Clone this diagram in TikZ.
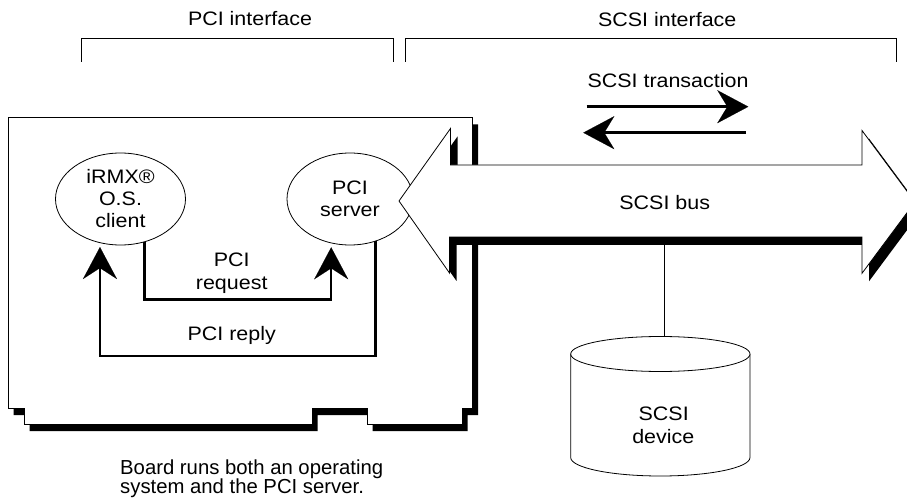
\documentclass[tikz,border=0pt]{standalone}
\usepackage{fontspec}
\setmainfont{Liberation Sans}[FakeStretch=1.1]
\newfontfamily\capfont{Liberation Sans}
\usetikzlibrary{arrows.meta,shapes.geometric}
\begin{document}
\begin{tikzpicture}[x=1pt,y=-1pt,
  every node/.style={font=\fontsize{19.5}{22}\selectfont, inner sep=0pt},
  thinln/.style={line width=0.8pt},
  conn/.style={line width=2.2pt, -{Stealth[length=32pt,width=34pt,inset=11pt,line width=0.1pt]}, shorten >=4pt},
  trans/.style={line width=2.8pt, -{Stealth[length=31pt,width=33pt,inset=10pt,line width=0.1pt]}},
  proc/.style={ellipse, draw, thinln, fill=white, align=center, minimum height=92pt},
  board outline/.style={insert path={(8,117.5) -- (472.5,117.5) -- (472.5,408) -- (462,408) -- (462,424) -- (367,424) -- (367,408) -- (312,408) -- (312,424) -- (24,424) -- (24,408) -- (8,408) -- cycle}},
  bus outline/.style={insert path={(399,201) -- (450.5,128.5) -- (450.5,165) -- (862,165) -- (862,130.5) -- (915,202) -- (862,273.3) -- (862,237) -- (449.5,237) -- (449.5,273) -- cycle}}
]
\useasboundingbox (0,0) rectangle (907,502);
\clip (0,0) rectangle (907,502);

% headings and brackets
\node[anchor=base] (pcihead) at (250,26) {PCI interface};
\node[anchor=base] (scsihead) at (667.2,26.7) {SCSI interface};
\draw[thinln] (81.7,62) -- (81.7,38) -- (393.3,38) -- (393.3,62);
\draw[thinln] (405,62) -- (405,38) -- (896,38) -- (896,62);

% SCSI transaction
\node[anchor=base] (trtxt) at (668,87.3) {SCSI transaction};
\coordinate (t1a) at (586.7,106.7);
\coordinate (t1b) at (748.3,106.7);
\coordinate (t2a) at (746,132.7);
\coordinate (t2b) at (583.3,132.7);
\draw[trans] (t1a) -- (t1b);
\draw[trans] (t2a) -- (t2b);

% board
\fill[black, shift={(5.5,7)}, board outline];
\filldraw[thinln, fill=white, board outline];

% processes
\node[proc, minimum width=130pt] (client) at (120.5,199) {iRMX®\\O.S.\\client};
\node[proc, minimum width=126pt] (server) at (350,199) {PCI\\server};

% request / reply
\draw[conn] (client.-61.3) -- ++(0,57.4) -| (server.-113.8);
\node[anchor=base] (req1) at (231.7,266.7) {PCI};
\node[anchor=base] (req2) at (231.7,290) {request};
\draw[conn] (server.-59.4) -- ++(0,114.8) -| (client.-115.2);
\node[anchor=base] (rep) at (231.7,340.7) {PCI reply};

% SCSI bus
\fill[black, shift={(7,8)}, bus outline];
\filldraw[thinln, fill=white, bus outline];
\node[anchor=base] (bus) at (664.7,210) {SCSI bus};

% SCSI device
\coordinate (busb) at (664.3,245);
\coordinate (devtop) at (664.3,336.5);
\draw[thinln] (busb) -- (devtop);
\filldraw[thinln, fill=white] (570.7,354) -- (570.7,457.5) arc[start angle=180, end angle=360, x radius=89.65pt, y radius=18.5pt] -- (750,354);
\filldraw[thinln, fill=white] (660.35,354) ellipse[x radius=89.65pt, y radius=17.5pt];
\node[anchor=base] (dev1) at (663.7,420) {SCSI};
\node[anchor=base] (dev2) at (663.3,443.3) {device};

% caption
\node[anchor=base west, font=\capfont\fontsize{20.3}{19.3}\selectfont] (cap1) at (120,474) {Board runs both an operating};
\node[anchor=base west, font=\capfont\fontsize{20.3}{19.3}\selectfont] (cap2) at (120,493.3) {system and the PCI server.};
\end{tikzpicture}
\end{document}
